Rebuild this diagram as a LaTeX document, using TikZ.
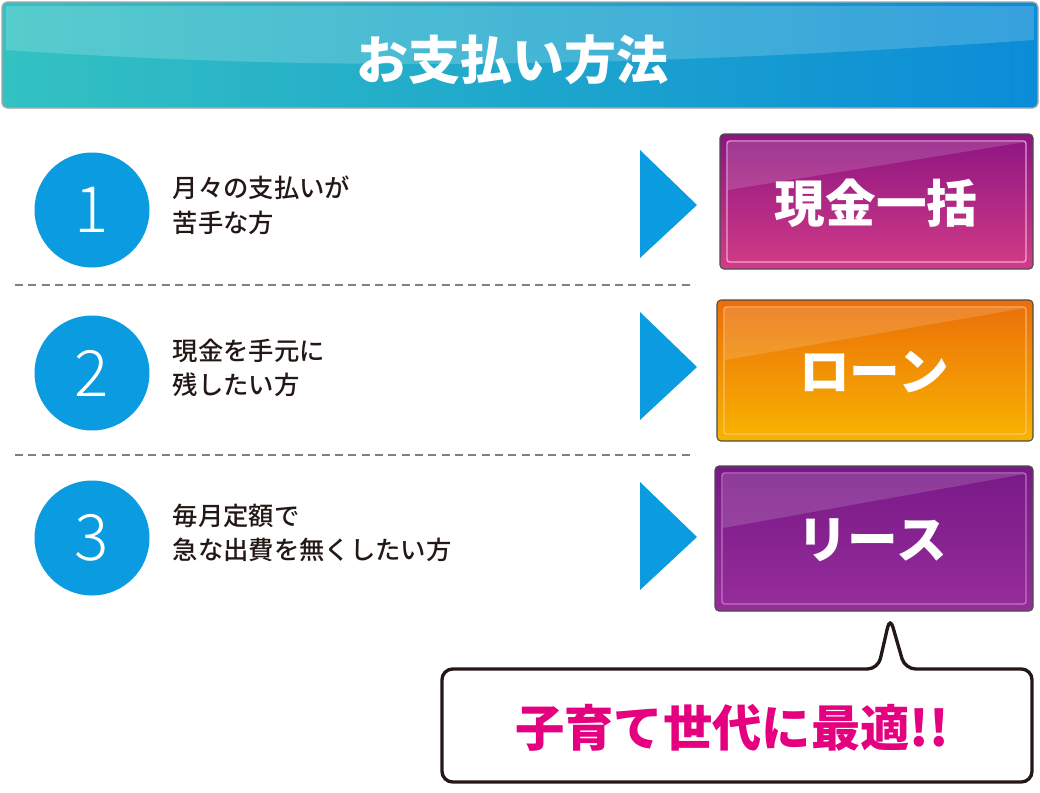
\documentclass[tikz,border=0pt]{standalone}
\usepackage{fontspec}
\setmainfont{Noto Sans CJK JP}
\newfontfamily\cjk{Noto Sans CJK JP}
\newfontfamily\cjkm{Noto Sans CJK JP Medium}
\newfontfamily\numf{Noto Sans CJK JP Light}
\begin{document}
\begin{tikzpicture}[x=0.75pt,y=-0.75pt,
  circ/.style={circle,fill=cblue,minimum size=115*0.75pt,inner sep=0,text=white,font=\fontsize{48}{48}\selectfont\numf},
  desc/.style={anchor=west,align=left,text=ink,font=\fontsize{19}{26}\selectfont\cjkm},
  tri/.style={fill=cblue},
  btxt/.style={text=white,font=\fontsize{38}{38}\selectfont\cjk\bfseries},
  sepline/.style={gray,dash pattern=on 6pt off 4pt,line width=0.8pt}]
\definecolor{cblue}{HTML}{0A9BE0}
\definecolor{ink}{HTML}{231815}
\definecolor{mag}{HTML}{E4007F}
\useasboundingbox (0,0) rectangle (1040,793);
% header
\shade[rounded corners=4pt,left color=teal!60!cyan!80!white,right color={rgb,255:red,10;green,140;blue,215}] (2,2) rectangle (1038,108);
\fill[white,opacity=0.18] (6,6) -- (1034,6) -- (1034,40) .. controls (600,70) and (300,70) .. (6,50) -- cycle;
\draw[gray!70,line width=1pt,rounded corners=4pt] (2,2) rectangle (1038,108);
\node[text=white,font=\fontsize{39}{39}\selectfont\cjk\bfseries] (title) at (512,60) {お支払い方法};
% rows
\node[circ] (c1) at (92,210) {1};
\node[circ] (c2) at (92,373) {2};
\node[circ] (c3) at (92,538) {3};
\node[desc] (d1) at (168,205) {月々の支払いが\\苦手な方};
\node[desc] (d2) at (168,368) {現金を手元に\\残したい方};
\node[desc] (d3) at (168,533) {毎月定額で\\急な出費を無くしたい方};
\draw[sepline] (15,285) -- (695,285);
\draw[sepline] (15,455) -- (695,455);
\fill[tri] (640,150) -- (697,205) -- (640,258) -- cycle;
\fill[tri] (640,312) -- (697,367) -- (640,420) -- cycle;
\fill[tri] (640,482) -- (697,537) -- (640,590) -- cycle;
% buttons
\shade[top color={rgb,255:red,140;green,20;blue,130},bottom color={rgb,255:red,210;green,60;blue,135},rounded corners=3pt] (720,134) rectangle (1033,269);
\draw[white!60!magenta!40,line width=1pt,rounded corners=2pt,opacity=0.7] (727,141) rectangle (1026,262);
\draw[gray!60!black,line width=0.8pt,rounded corners=3pt] (720,134) rectangle (1033,269);
\fill[white,opacity=0.15] (728,142) -- (1025,142) -- (728,190) -- cycle;
\node[btxt] (b1) at (876,203) {現金一括};
\shade[top color={rgb,255:red,235;green,110;blue,10},bottom color={rgb,255:red,248;green,180;blue,0},rounded corners=3pt] (717,300) rectangle (1033,441);
\draw[white!60!orange,line width=1pt,rounded corners=2pt,opacity=0.7] (724,307) rectangle (1026,434);
\draw[gray!60!black,line width=0.8pt,rounded corners=3pt] (717,300) rectangle (1033,441);
\fill[white,opacity=0.15] (725,308) -- (1025,308) -- (725,360) -- cycle;
\node[btxt] (b2) at (874,372) {ローン};
\shade[top color={rgb,255:red,120;green,25;blue,135},bottom color={rgb,255:red,150;green,45;blue,155},rounded corners=3pt] (715,466) rectangle (1033,611);
\draw[white!60!violet,line width=1pt,rounded corners=2pt,opacity=0.7] (722,473) rectangle (1026,604);
\draw[gray!60!black,line width=0.8pt,rounded corners=3pt] (715,466) rectangle (1033,611);
\fill[white,opacity=0.15] (723,474) -- (1025,474) -- (723,528) -- cycle;
\node[btxt] (b3) at (872,540) {リース};
% callout
\draw[fill=white,draw=ink,line width=2.5pt,rounded corners=8pt] (442,669) -- (878,669) -- (890,617) -- (905,669) -- (1032,669) -- (1032,782) -- (442,782) -- cycle;
\node[text=mag,font=\fontsize{37}{37}\selectfont\cjk\bfseries] (call) at (732,728) {子育て世代に最適!!};
\end{tikzpicture}
\end{document}
